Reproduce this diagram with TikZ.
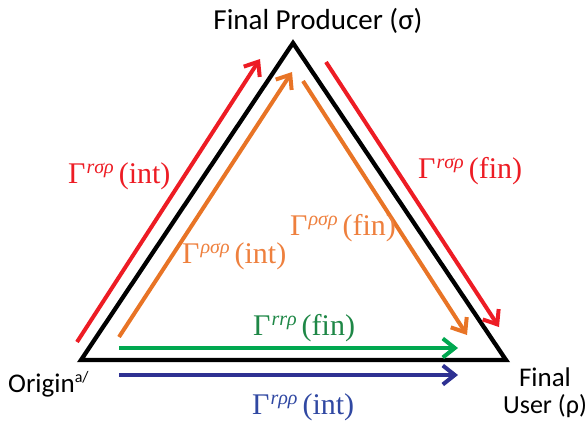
\documentclass[tikz,border=0pt]{standalone}
\usepackage{fontspec}
\setmainfont{Liberation Serif}
\newfontfamily\calib{Carlito}
\usetikzlibrary{arrows.meta}
\definecolor{cred}{RGB}{237,28,36}
\definecolor{corange}{RGB}{232,116,38}
\definecolor{corangetxt}{RGB}{238,128,62}
\definecolor{cgreen}{RGB}{0,168,80}
\definecolor{cgreentxt}{RGB}{30,135,70}
\definecolor{cblue}{RGB}{46,49,146}
\definecolor{cbluetxt}{RGB}{48,72,162}
\newcommand\glab[2]{Γ\hspace{1pt}\raisebox{10pt}{\fontsize{20}{20}\selectfont\itshape #1}\hspace{5pt}(#2)}
\begin{document}
\begin{tikzpicture}[x=1pt,y=-1pt,
  flow/.style={line width=4pt,-{Straight Barb[length=12pt,width=19pt,line width=4pt]}},
  glabel/.style={inner sep=0pt,anchor=base west,font=\fontsize{30}{32}\selectfont},
  slabel/.style={inner sep=0pt,anchor=base,font=\calib\fontsize{27}{30}\selectfont}]
\useasboundingbox (0,0) rectangle (588,421);
% triangle
\coordinate (O) at (81,360);
\coordinate (P) at (293,43);
\coordinate (U) at (506,360);
\draw[line width=4.3pt,line join=miter] (O) -- (P) -- (U) -- cycle;
% arrow end points
\coordinate (rl1) at (77,342);  \coordinate (rl2) at (260,59);
\coordinate (ol1) at (119,337); \coordinate (ol2) at (292,72);
\coordinate (rr1) at (326,62);  \coordinate (rr2) at (499,327);
\coordinate (or1) at (303,81);  \coordinate (or2) at (467,335);
\coordinate (g1) at (119,348);  \coordinate (g2) at (458,348);
\coordinate (b1) at (119,375);  \coordinate (b2) at (458,375);
\draw[flow,cred] (rl1) -- (rl2);
\draw[flow,corange] (ol1) -- (ol2);
\draw[flow,cred] (rr1) -- (rr2);
\draw[flow,corange] (or1) -- (or2);
\draw[flow,cgreen] (g1) -- (g2);
\draw[flow,cblue] (b1) -- (b2);
% labels
\node[glabel,text=cred] (lri) at (68,183) {\glab{rσρ}{int}};
\node[glabel,text=cred] (lrf) at (418,178) {\glab{rσρ}{fin}};
\node[glabel,text=corangetxt] (lof) at (290,235) {\glab{ρσρ}{fin}};
\node[glabel,text=corangetxt] (loi) at (182,263) {\glab{ρσρ}{int}};
\node[glabel,text=cgreentxt] (lgf) at (253,335) {\glab{rrρ}{fin}};
\node[glabel,text=cbluetxt] (lbi) at (252,414) {\glab{rρρ}{int}};
\node[slabel,font=\calib\fontsize{29}{32}\selectfont] (prod) at (318,29) {Final Producer (σ)};
\node[slabel,anchor=base west] (orig) at (8,392) {Origin\raisebox{10pt}{\fontsize{16}{16}\selectfont a/}};
\node[slabel] (fin) at (545,386) {Final};
\node[slabel,font=\calib\fontsize{26}{30}\selectfont] (user) at (545,413) {User (ρ)};
\end{tikzpicture}
\end{document}
